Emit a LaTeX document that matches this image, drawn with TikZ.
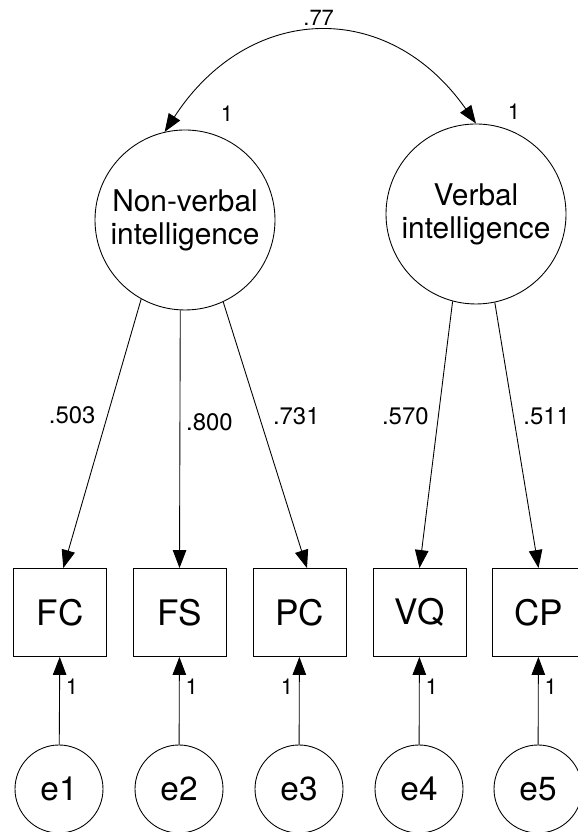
\documentclass[tikz,border=0pt]{standalone}
\usepackage{fontspec}
\setmainfont{TeX Gyre Heros}
\usepackage{tikz}
\usetikzlibrary{positioning,arrows.meta}

\tikzset{
  lat/.style={draw, circle, minimum size=3.6cm, inner sep=0pt, align=center, font=\fontsize{17}{18.7}\selectfont},
  obs/.style={draw, rectangle, minimum width=1.86cm, minimum height=1.76cm, inner sep=0pt, font=\fontsize{20}{24}\selectfont},
  errc/.style={draw, circle, minimum size=1.76cm, inner sep=0pt, font=\fontsize{19}{23}\selectfont},
  coef/.style={font=\fontsize{13.6}{16}\selectfont},
  one/.style={font=\fontsize{12.5}{15}\selectfont},
  >={Triangle[length=0.36cm,width=0.27cm]},
}

\begin{document}
\begin{tikzpicture}[scale=1.0, line width=0.5pt]
  \useasboundingbox (0,0) rectangle (11.56,16.64);

  % latent factors
  \node[lat] (nv) at (3.70,12.24) {Non-verbal\\intelligence};
  \node[lat] (vb) at (9.52,12.36) {Verbal\\intelligence};
  \node[one] (nvvar) at ([shift={(0.84,0.32)}]nv.north) {1};
  \node[one] (vbvar) at ([shift={(0.76,0.24)}]vb.north) {1};
  \draw[<->] (nv.103) to[out=57,in=125,looseness=1.26] node[one,midway,above] (corr) {.77} (vb.north);

  % observed tests
  \node[obs] (fc) at (1.20,4.39) {FC};
  \node[obs] (fs) at (3.59,4.39) {FS};
  \node[obs] (pc) at (5.99,4.39) {PC};
  \node[obs] (vq) at (8.39,4.39) {VQ};
  \node[obs] (cp) at (10.77,4.39) {CP};

  % loadings
  \draw[->] (nv.241.6) -- ([xshift=0.066cm]fc.north) node[coef,pos=0.43,left=0.12cm] {.503};
  \draw[->] (nv.267) -- (fs.north) node[coef,pos=0.435,right] {.800};
  \draw[->] (nv.295) -- ([xshift=0.15cm]pc.north) node[coef,pos=0.43,right=0.15cm] {.731};
  \draw[->] (vb.255) -- (vq.north) node[coef,pos=0.43,left=0.07cm] {.570};
  \draw[->] (vb.282) -- (cp.north) node[coef,pos=0.43,right=0.07cm] {.511};

  % error terms
  \node[errc] (e1) at (1.18,0.86) {e1};
  \node[errc] (e2) at (3.58,0.86) {e2};
  \node[errc] (e3) at (5.98,0.86) {e3};
  \node[errc] (e4) at (8.38,0.86) {e4};
  \node[errc] (e5) at (10.76,0.86) {e5};
  \draw[->] (e1) -- (fc) node[one,pos=0.66,right] {1};
  \draw[->] (e2) -- (fs) node[one,pos=0.66,right] {1};
  \draw[->] (e3) -- (pc) node[one,pos=0.66,left] {1};
  \draw[->] (e4) -- (vq) node[one,pos=0.66,right] {1};
  \draw[->] (e5) -- (cp) node[one,pos=0.66,right] {1};
\end{tikzpicture}
\end{document}
